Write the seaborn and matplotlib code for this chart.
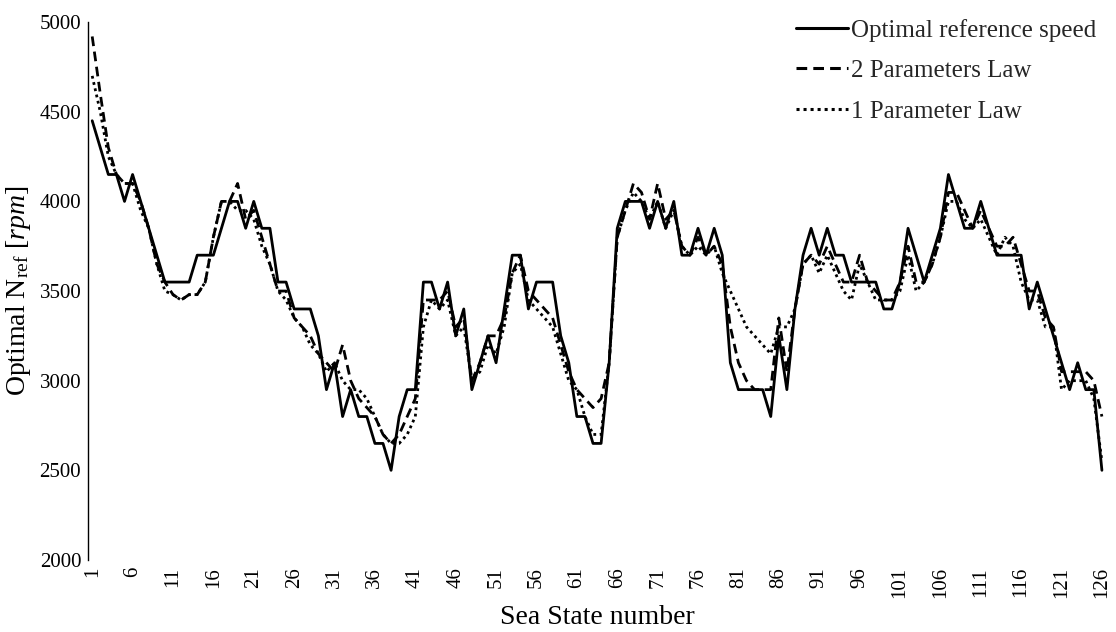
import numpy as np
import pandas as pd
import matplotlib
matplotlib.use("Agg")
import matplotlib.pyplot as plt
import seaborn as sns

sea_state = list(range(1, 127))

optimal = [4450, 4300, 4150, 4150, 4000, 4150, 4000, 3850, 3700, 3550,
           3550, 3550, 3550, 3700, 3700, 3700, 3850, 4000, 4000, 3850,
           4000, 3850, 3850, 3550, 3550, 3400, 3400, 3400, 3250, 2950,
           3100, 2800, 2950, 2800, 2800, 2650, 2650, 2500, 2800, 2950,
           2950, 3550, 3550, 3400, 3550, 3250, 3400, 2950, 3100, 3250,
           3100, 3400, 3700, 3700, 3400, 3550, 3550, 3550, 3250, 3100,
           2800, 2800, 2650, 2650, 3100, 3850, 4000, 4000, 4000, 3850,
           4000, 3850, 4000, 3700, 3700, 3850, 3700, 3850, 3700, 3100,
           2950, 2950, 2950, 2950, 2800, 3250, 2950, 3400, 3700, 3850,
           3700, 3850, 3700, 3700, 3550, 3550, 3550, 3550, 3400, 3400,
           3550, 3850, 3700, 3550, 3700, 3850, 4150, 4000, 3850, 3850,
           4000, 3850, 3700, 3700, 3700, 3700, 3400, 3550, 3400, 3250,
           3100, 2950, 3100, 2950, 2950, 2500]

two_param = [4920, 4600, 4300, 4150, 4100, 4100, 4000, 3850, 3650, 3550,
             3480, 3450, 3480, 3480, 3550, 3800, 4000, 4000, 4100, 3900,
             3950, 3800, 3650, 3500, 3500, 3350, 3300, 3250, 3150, 3100,
             3050, 3200, 3000, 2900, 2850, 2800, 2700, 2650, 2700, 2800,
             2900, 3450, 3450, 3450, 3500, 3300, 3350, 3000, 3100, 3250,
             3250, 3350, 3600, 3700, 3500, 3450, 3400, 3350, 3200, 3050,
             2950, 2900, 2850, 2900, 3100, 3800, 3950, 4100, 4050, 3900,
             4100, 3900, 3950, 3750, 3700, 3800, 3700, 3750, 3650, 3300,
             3100, 3000, 2950, 2950, 2950, 3350, 3050, 3400, 3650, 3700,
             3650, 3750, 3650, 3550, 3550, 3700, 3550, 3500, 3450, 3450,
             3550, 3750, 3550, 3550, 3650, 3800, 4050, 4050, 3950, 3850,
             3950, 3850, 3750, 3750, 3800, 3650, 3500, 3500, 3350, 3300,
             3050, 3050, 3050, 3050, 3000, 2800]

one_param = [4700, 4500, 4250, 4150, 4100, 4100, 3950, 3850, 3650, 3500,
             3480, 3450, 3480, 3480, 3550, 3800, 4000, 4000, 3950, 3950,
             3900, 3750, 3650, 3500, 3450, 3350, 3300, 3200, 3150, 3050,
             3100, 3000, 2950, 2950, 2900, 2800, 2700, 2650, 2650, 2700,
             2800, 3300, 3450, 3400, 3450, 3250, 3300, 3000, 3050, 3200,
             3150, 3300, 3600, 3650, 3450, 3400, 3350, 3300, 3150, 3000,
             2950, 2800, 2700, 2700, 3100, 3800, 3950, 4050, 4000, 3900,
             4000, 3850, 3950, 3750, 3700, 3750, 3700, 3750, 3600, 3500,
             3400, 3300, 3250, 3200, 3150, 3300, 3300, 3400, 3650, 3700,
             3600, 3700, 3600, 3500, 3450, 3650, 3550, 3450, 3450, 3450,
             3500, 3700, 3500, 3550, 3650, 3800, 4000, 4000, 3900, 3850,
             3900, 3800, 3700, 3800, 3750, 3550, 3450, 3450, 3300, 3300,
             2950, 3000, 3000, 3000, 2900, 2550]

series_names = ["Optimal reference speed", "2 Parameters Law", "1 Parameter Law"]
x_ticks = list(range(1, 127, 5))
y_ticks = [2000, 2500, 3000, 3500, 4000, 4500, 5000]

df = pd.DataFrame({
    "Sea State": sea_state * 3,
    "N": optimal + two_param + one_param,
    "Series": [series_names[0]] * 126 + [series_names[1]] * 126 + [series_names[2]] * 126,
})

sns.set_theme(style="white")
plt.rcParams["font.family"] = ["Liberation Serif", "DejaVu Serif"]
plt.rcParams["mathtext.fontset"] = "custom"
plt.rcParams["mathtext.rm"] = "Liberation Serif"
plt.rcParams["mathtext.it"] = "Liberation Serif:italic"

fig = plt.figure(figsize=(11.16, 6.32), dpi=100)
ax = fig.add_axes([0.079, 0.114, 0.912, 0.851])

sns.lineplot(data=df, x="Sea State", y="N", hue="Series", style="Series",
             hue_order=series_names, style_order=series_names,
             palette=["black"] * 3,
             dashes={series_names[0]: "", series_names[1]: (3.5, 2.0), series_names[2]: (1.0, 1.3)},
             linewidth=2.0, ax=ax, legend=True)

ax.set_xlim(0.5, 126.5)
ax.set_ylim(2000, 5000)
ax.set_xticks(x_ticks)
ax.set_xticklabels([str(t) for t in x_ticks], rotation=90)
ax.set_yticks(y_ticks)
ax.tick_params(axis="both", labelsize=15, length=0, colors="black")
ax.tick_params(axis="y", pad=5)
ax.tick_params(axis="x", pad=5)
for s in ["top", "right", "bottom"]:
    ax.spines[s].set_visible(False)
ax.spines["left"].set_color("black")
ax.spines["left"].set_linewidth(1.0)
ax.grid(False)

ax.set_xlabel("Sea State number", fontsize=20, color="black", labelpad=5)
ax.set_ylabel(r"Optimal N$_{\mathrm{ref}}$ [$\mathit{rpm}$]", fontsize=20, color="black", labelpad=5)

leg = ax.legend(loc="upper right", frameon=False, fontsize=18, handlelength=2.1,
                handletextpad=0.1, labelspacing=0.72, borderaxespad=0.0,
                bbox_to_anchor=(1.0, 1.025))
for line in leg.get_lines():
    line.set_linewidth(2.2)

fig.savefig("out.png", dpi=100, facecolor="white")
